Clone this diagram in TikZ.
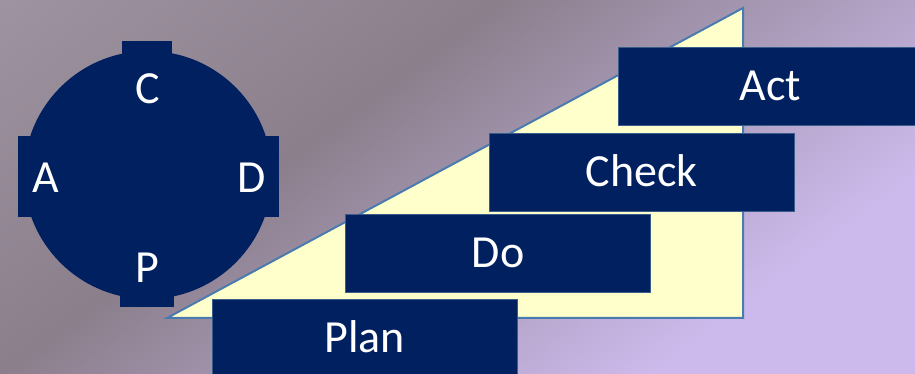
\documentclass[tikz,border=0pt]{standalone}
\usepackage{fontspec}
\setmainfont{Carlito}

\definecolor{navy}{HTML}{002060}
\definecolor{boxline}{HTML}{385D8A}
\definecolor{rampfill}{HTML}{FFFFCC}
\definecolor{rampline}{HTML}{4A7BAE}
\definecolor{bgA}{HTML}{9E93A0}
\definecolor{bgB}{HTML}{8B7F8C}
\definecolor{bgC}{HTML}{B4A4C8}
\definecolor{bgD}{HTML}{CCBAEC}

\pgfdeclarehorizontalshading{backdrop}{100bp}{color(0bp)=(bgA); color(25bp)=(bgA); color(42.7bp)=(bgB); color(57.3bp)=(bgC); color(65.6bp)=(bgD); color(100bp)=(bgD)}

\tikzset{
    stepbox/.style={rectangle, draw=boxline, line width=0.75pt, fill=navy, text=white,
        minimum width=305pt, minimum height=78pt, inner sep=0pt,
        text height=30pt, text depth=0pt, font=\fontsize{46}{55}\selectfont},
    letter/.style={text=white, inner sep=0pt, text height=30pt, text depth=0pt,
        font=\fontsize{46}{55}\selectfont},
    tab/.style={rectangle, fill=navy, inner sep=0pt},
    ramp/.style={fill=rampfill, draw=rampline, line width=2pt, line join=miter}
    }

\begin{document}
\begin{tikzpicture}[x=1pt, y=1pt]
                \useasboundingbox (0,0) rectangle (915,374);
                % Background
                \begin{scope}
                    \clip (0,0) rectangle (915,374);
                    \begin{scope}[transform canvas={rotate around={-53.2:(0,374)}}]
                        \shade[shading=backdrop] (0,150) rectangle (848,1107);
                    \end{scope}
                \end{scope}

                % The ramp
                \draw[ramp] (167,56) -- (743,366) -- (743,56) -- cycle;

                % The wheel
                \node(wheel)[circle, fill=navy, minimum size=248pt, inner sep=0pt] at (148,199) {};
                \node(tabC)[tab, minimum width=50pt, minimum height=20pt] at (147,323) {};
                \node(tabP)[tab, minimum width=54pt, minimum height=20pt] at (147,77) {};
                \node(tabA)[tab, minimum width=20pt, minimum height=81pt] at (28,197.5) {};
                \node(tabD)[tab, minimum width=20pt, minimum height=81pt] at (269,197.5) {};
                \node(C)[letter] at (147.5,285.5) {C};
                \node(A)[letter] at (45.5,196.5) {A};
                \node(D)[letter] at (252,196.5) {D};
                \node(P)[letter] at (147.5,106.5) {P};

                % The steps
                \node(plan)[stepbox] at (364.5,36) {Plan};
                \node(do)[stepbox] at (498,121) {Do};
                \node(check)[stepbox] at (641.5,202) {Check};
                \node(act)[stepbox] at (770.5,288) {Act};
            \end{tikzpicture}
\end{document}
